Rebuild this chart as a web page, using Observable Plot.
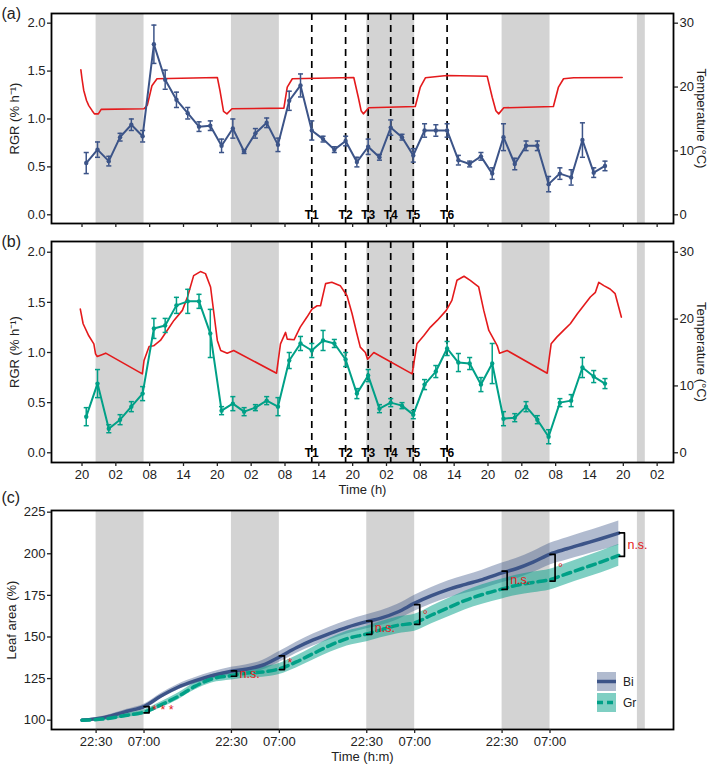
<!DOCTYPE html>
<html>
<head>
<meta charset="utf-8">
<script src="https://cdn.jsdelivr.net/npm/d3@7"></script>
<script src="https://cdn.jsdelivr.net/npm/@observablehq/plot@0.6"></script>
<style>
  body { margin: 0; background: white; }
  #wrap { position: relative; width: 709px; height: 765px; font-family: "Liberation Sans", Arial, sans-serif; }
  .legend { position: absolute; left: 597px; top: 672px; font-size: 12px; color: #222; }
  .legend .row { display: flex; align-items: center; height: 19px; margin-bottom: 2px; }
  .legend svg { display: block; margin-right: 7px; }
</style>
</head>
<body>
<div id="wrap">
  <div class="legend">
    <div class="row">
      <svg width="19" height="19"><rect width="19" height="19" fill="#3C5488" fill-opacity="0.4"></rect><line x1="0" x2="19" y1="9.5" y2="9.5" stroke="#3C5488" stroke-width="3.5"></line></svg><span>Bi</span>
    </div>
    <div class="row">
      <svg width="19" height="19"><rect width="19" height="19" fill="#00A087" fill-opacity="0.5"></rect><line x1="0" x2="19" y1="9.5" y2="9.5" stroke="#00A087" stroke-width="3.5" stroke-dasharray="6,4"></line></svg><span>Gr</span>
    </div>
  </div>
</div>
<script>
// time axis in hours, 0 = 20:00 on the first day
const hourTicks = [0, 6, 12, 18, 24, 30, 36, 42, 48, 54, 60, 66, 72, 78, 84, 90, 96, 102];
const hourLabels = ["20", "02", "08", "14", "20", "02", "08", "14", "20", "02", "08", "14", "20", "02", "08", "14", "20", "02"];
const nightStart = [2.5, 26.5, 50.5, 74.5, 98.5];
const nightEnd = [11, 35, 59, 83, 99.9];
const tLineT = [40.75, 46.75, 50.75, 54.75, 58.75, 64.75];
const tLineLabel = ["T1", "T2", "T3", "T4", "T5", "T6"];

// RGR sampling times (h)
const sampleT = [0.75, 2.75, 4.75, 6.75, 8.75, 10.75, 12.75, 14.75, 16.75, 18.75, 20.75, 22.75, 24.75, 26.75, 28.75, 30.75,
  32.75, 34.75, 36.75, 38.75, 40.75, 42.75, 44.75, 46.75, 48.75, 50.75, 52.75, 54.75, 56.75, 58.75, 60.75, 62.75,
  64.75, 66.75, 68.75, 70.75, 72.75, 74.75, 76.75, 78.75, 80.75, 82.75, 84.75, 86.75, 88.75, 90.75, 92.75];

const rgrA = [0.54, 0.68, 0.56, 0.81, 0.94, 0.82, 1.78, 1.41, 1.20, 1.06, 0.92, 0.93, 0.72, 0.90, 0.66, 0.85,
  0.96, 0.73, 1.19, 1.35, 0.88, 0.79, 0.68, 0.77, 0.55, 0.71, 0.60, 0.91, 0.81, 0.62, 0.88, 0.88,
  0.88, 0.57, 0.53, 0.61, 0.43, 0.81, 0.53, 0.72, 0.72, 0.32, 0.43, 0.39, 0.78, 0.44, 0.51];
const errA = [0.11, 0.08, 0.05, 0.04, 0.06, 0.06, 0.20, 0.10, 0.08, 0.06, 0.05, 0.05, 0.07, 0.10, 0.02, 0.05,
  0.05, 0.07, 0.10, 0.12, 0.10, 0.03, 0.03, 0.05, 0.05, 0.08, 0.03, 0.08, 0.03, 0.07, 0.07, 0.06,
  0.07, 0.05, 0.03, 0.04, 0.06, 0.14, 0.06, 0.05, 0.05, 0.08, 0.06, 0.08, 0.18, 0.05, 0.05];

const rgrB = [0.36, 0.69, 0.24, 0.33, 0.46, 0.59, 1.24, 1.27, 1.47, 1.51, 1.51, 1.19, 0.42, 0.49, 0.41, 0.45,
  0.52, 0.46, 0.92, 1.09, 1.02, 1.12, 1.09, 0.93, 0.59, 0.77, 0.44, 0.50, 0.47, 0.38, 0.68, 0.81,
  1.04, 0.90, 0.89, 0.68, 0.89, 0.34, 0.35, 0.46, 0.33, 0.16, 0.50, 0.52, 0.85, 0.76, 0.69];
const errB = [0.09, 0.14, 0.04, 0.05, 0.05, 0.07, 0.10, 0.07, 0.08, 0.12, 0.07, 0.24, 0.04, 0.07, 0.04, 0.03,
  0.04, 0.09, 0.08, 0.07, 0.07, 0.10, 0.04, 0.07, 0.05, 0.06, 0.04, 0.04, 0.03, 0.04, 0.05, 0.06,
  0.07, 0.09, 0.06, 0.07, 0.20, 0.07, 0.04, 0.05, 0.04, 0.07, 0.04, 0.06, 0.10, 0.06, 0.05];

// temperature traces [hour, °C]
const tempA = [[-0.2, 22.7], [0.0, 21.3], [0.3, 19.5], [0.8, 17.9], [1.2, 17.1], [1.8, 16.3], [2.2, 15.8], [2.9, 15.8],
  [3.4, 16.5], [11.0, 16.6], [11.6, 17.2], [12.4, 20.2], [13.3, 21.3], [24.0, 21.5], [24.5, 19.3], [25.1, 16.2],
  [25.7, 15.8], [26.6, 16.6], [35.8, 16.7], [36.4, 20.0], [37.3, 21.3], [48.2, 21.5], [49.0, 18.4], [49.5, 16.3],
  [49.9, 15.8], [50.85, 16.75], [59.1, 16.95], [60.0, 20.0], [60.9, 21.45], [64.7, 21.8], [71.85, 21.7], [72.75, 18.4],
  [73.4, 16.3], [73.9, 15.8], [74.8, 16.75], [83.6, 16.95], [84.5, 20.0], [85.4, 21.3], [87.2, 21.45], [95.8, 21.5]];
const tempB = [[-0.3, 21.5], [0.2, 19.3], [1.2, 17.5], [2.1, 16.3], [2.4, 14.8], [2.7, 14.4], [3.3, 14.6], [4.2, 14.9],
  [10.7, 11.8], [11.0, 13.8], [11.9, 15.9], [12.7, 16.0], [13.9, 16.8], [15.1, 18.3], [16.3, 19.8], [17.8, 21.3],
  [18.7, 23.3], [19.8, 26.5], [21.0, 27.1], [21.9, 26.8], [22.8, 24.8], [23.4, 20.8], [24.0, 16.8], [24.6, 15.3],
  [25.75, 14.9], [26.9, 15.3], [34.5, 11.9], [35.2, 16.3], [36.1, 18.0], [36.4, 17.0], [37.6, 16.9], [38.7, 18.8],
  [39.9, 20.3], [40.8, 21.5], [41.7, 22.0], [42.3, 22.0], [43.2, 25.3], [44.3, 25.5], [45.8, 25.0], [47.0, 23.5],
  [47.9, 20.8], [48.75, 17.8], [49.35, 15.8], [50.25, 15.0], [50.65, 14.0], [51.75, 15.0], [58.55, 11.8], [59.4, 16.3],
  [60.6, 17.5], [61.8, 18.8], [63.0, 19.8], [64.6, 21.3], [65.6, 22.8], [66.5, 25.8], [67.75, 26.4], [68.85, 25.8],
  [70.35, 24.8], [71.25, 21.3], [72.15, 18.3], [73.65, 16.0], [74.05, 14.9], [75.4, 15.3], [82.5, 11.9], [83.2, 16.3],
  [84.2, 17.3], [85.4, 18.3], [86.6, 19.3], [87.85, 20.8], [88.95, 22.0], [90.15, 23.3], [91.05, 24.0], [91.65, 25.5],
  [92.55, 25.0], [93.65, 24.5], [94.55, 23.8], [95.65, 20.3]];
const tempTicks = [0, 10, 20, 30];

// leaf area (%)
const leafT = [0, 4, 8, 11, 14, 17, 20, 23, 26.5, 29, 32, 35, 38, 41, 44, 47,
  50.5, 53, 56, 59, 62, 65, 68, 71, 74.5, 77, 80, 83, 86, 89, 92, 95.2];
const biMean = [100, 101.7, 105.4, 108.2, 114.5, 119.8, 123.6, 126.7, 129.4, 130.6, 133, 138, 143.5, 148.2, 152.2, 155.8,
  159.2, 161.3, 165, 170.3, 174.8, 178.6, 181.6, 184.5, 188.5, 191, 195, 199.8, 203, 206, 209, 212.4];
const biSE = [0.5, 0.8, 1.1, 1.3, 1.5, 1.7, 1.9, 2.1, 2.4, 2.6, 2.9, 3.2, 3.4, 3.6, 3.8, 4.0,
  4.2, 4.4, 4.6, 4.8, 5.0, 5.2, 5.4, 5.6, 5.9, 6.1, 6.3, 6.5, 6.7, 6.9, 7.1, 7.3];
const grMean = [100, 100.8, 103, 104.8, 109.2, 114.2, 120.3, 124.8, 126.8, 128.2, 128.9, 130.8, 135, 140, 145, 149,
  151.8, 154.3, 157, 158.5, 163.2, 167.6, 172, 175.5, 178.8, 181, 182.8, 184.5, 188, 191.5, 195, 199];
const grSE = [0.8, 1.0, 1.3, 1.5, 1.8, 2.0, 2.2, 2.5, 2.7, 2.9, 3.1, 3.3, 3.6, 3.9, 4.2, 4.4,
  4.6, 4.8, 5.0, 5.1, 5.3, 5.5, 5.7, 5.9, 6.0, 6.1, 6.2, 6.2, 6.3, 6.4, 6.5, 6.5];
const leafTicks = [2.5, 11, 26.5, 35, 50.5, 59, 74.5, 83];
const leafTickLabels = ["22:30", "07:00", "22:30", "07:00", "22:30", "07:00", "22:30", "07:00"];

// significance brackets
const bracketT = [11, 26.5, 35, 50.5, 59, 74.5, 83, 95.3];
const bracketHi = [108.2, 129.6, 138.6, 159.6, 169.4, 189.6, 199.6, 212.6];
const bracketLo = [104.4, 126.4, 130.4, 151.6, 157.6, 178.6, 183.6, 198.4];
const bracketLabel = ["* * *", "n.s.", "*", "n.s.", "°", "n.s.", "°", "n.s."];

const navy = "#3C5488", teal = "#00A087", red = "#E41A1C", nightFill = "#d3d3d3";
const xDomain = [-5.41, 104.9];
const font = "'Liberation Sans', Arial, sans-serif";

const nightRows = nightStart.map((s, i) => ({x1: s, x2: nightEnd[i]}));
const tRows = tLineT.map((t, i) => ({t, label: tLineLabel[i]}));
const hourLabelOf = new Map(hourTicks.map((t, i) => [t, hourLabels[i]]));
const leafLabelOf = new Map(leafTicks.map((t, i) => [t, leafTickLabels[i]]));

function svgStyle(top) {
  return {fontFamily: font, fontSize: "13px", color: "#222", background: "none",
    position: "absolute", left: "0px", top: top + "px", overflow: "visible"};
}

function rgrPanel(vals, errs, temp, color, top, height, mB, yDomain, tag, showX) {
  const rows = sampleT.map((t, i) => ({t, y: vals[i], lo: vals[i] - errs[i], hi: vals[i] + errs[i]}));
  const marks = [
    Plot.rect(nightRows, {x1: "x1", x2: "x2", fill: nightFill}),
    Plot.ruleX(tRows, {x: "t", stroke: "black", strokeWidth: 1.7, strokeDasharray: "7,5"}),
    Plot.line(temp, {x: d => d[0], y: d => d[1] / 15, stroke: red, strokeWidth: 1.6}),
    Plot.ruleX(rows, {x: "t", y1: "lo", y2: "hi", stroke: color, strokeWidth: 1.5}),
    Plot.link(rows, {x1: d => d.t - 0.45, x2: d => d.t + 0.45, y1: "hi", y2: "hi", stroke: color, strokeWidth: 1.5}),
    Plot.link(rows, {x1: d => d.t - 0.45, x2: d => d.t + 0.45, y1: "lo", y2: "lo", stroke: color, strokeWidth: 1.5}),
    Plot.line(rows, {x: "t", y: "y", stroke: color, strokeWidth: 2}),
    Plot.dot(rows, {x: "t", y: "y", r: 2.2, fill: color}),
    Plot.text(tRows, {x: "t", y: 0, text: "label", fontWeight: "bold", fontSize: 12, fill: "black"}),
    Plot.frame({stroke: "black", strokeWidth: 1.8}),
    Plot.axisY({ticks: [0, 0.5, 1, 1.5, 2], tickFormat: d3.format(".1f"), tickSize: 4, tickPadding: 2, strokeWidth: 1.3, label: null}),
    Plot.axisY({anchor: "right", ticks: tempTicks.map(v => v / 15), tickFormat: d => String(Math.round(d * 15)),
      tickSize: 4, tickPadding: 2, strokeWidth: 1.3, label: null}),
    Plot.axisX({ticks: hourTicks, tickFormat: showX ? (d => hourLabelOf.get(d)) : (() => ""), tickSize: 4, tickPadding: 3,
      strokeWidth: 1.3, label: null}),
    Plot.text(["RGR (% h⁻¹)"], {text: d => d, frameAnchor: "left", dx: -37, rotate: -90, textAnchor: "middle", fontSize: 13}),
    Plot.text(["Temperature (°C)"], {text: d => d, frameAnchor: "right", dx: 28, rotate: 90, textAnchor: "middle", fontSize: 13}),
    Plot.text([tag], {text: d => d, frameAnchor: "top-left", dx: -50, textAnchor: "start", lineAnchor: "middle", fontSize: 16})
  ];
  if (showX) marks.push(Plot.text(["Time (h)"], {text: d => d, frameAnchor: "bottom", dy: 27, lineAnchor: "middle", fontSize: 13}));
  return Plot.plot({
    width: 709, height, marginLeft: 51, marginRight: 36, marginTop: 13, marginBottom: mB,
    x: {domain: xDomain}, y: {domain: yDomain},
    style: svgStyle(top),
    marks
  });
}

const wrap = document.getElementById("wrap");
wrap.append(rgrPanel(rgrA, errA, tempA, navy, 0, 230, 7, [-0.091, 2.101], "(a)", false));
wrap.append(rgrPanel(rgrB, errB, tempB, teal, 228, 270, 36, [-0.097, 2.107], "(b)", true));

// panel c
const leafRows = leafT.map((t, i) => ({
  t, bi: biMean[i], biLo: biMean[i] - biSE[i], biHi: biMean[i] + biSE[i],
  gr: grMean[i], grLo: grMean[i] - grSE[i], grHi: grMean[i] + grSE[i]
}));
const bracketW = 0.9;
const bracketRows = bracketT.map((t, i) => ({id: i, t, hi: bracketHi[i], lo: bracketLo[i], label: bracketLabel[i]}));
const bracketPts = bracketRows.flatMap(b => [
  {id: b.id, x: b.t, y: b.hi}, {id: b.id, x: b.t + bracketW, y: b.hi},
  {id: b.id, x: b.t + bracketW, y: b.lo}, {id: b.id, x: b.t, y: b.lo}
]);

const chartC = Plot.plot({
  width: 709, height: 283, marginLeft: 51, marginRight: 36, marginTop: 28, marginBottom: 36,
  x: {domain: xDomain}, y: {domain: [94.4, 226]},
  style: svgStyle(482),
  marks: [
    Plot.rect(nightRows, {x1: "x1", x2: "x2", fill: nightFill}),
    Plot.areaY(leafRows, {x: "t", y1: "biLo", y2: "biHi", fill: navy, fillOpacity: 0.4, curve: "monotone-x"}),
    Plot.areaY(leafRows, {x: "t", y1: "grLo", y2: "grHi", fill: teal, fillOpacity: 0.5, curve: "monotone-x"}),
    Plot.line(leafRows, {x: "t", y: "bi", stroke: navy, strokeWidth: 3.5, curve: "monotone-x"}),
    Plot.line(leafRows, {x: "t", y: "gr", stroke: teal, strokeWidth: 3.5, strokeDasharray: "8,5", curve: "monotone-x"}),
    Plot.line(bracketPts, {x: "x", y: "y", z: "id", stroke: "black", strokeWidth: 1.7}),
    Plot.text(bracketRows, {x: d => d.t + bracketW, y: d => (d.hi + d.lo) / 2, text: "label", fill: red,
      textAnchor: "start", dx: 3, fontSize: 12.5}),
    Plot.frame({stroke: "black", strokeWidth: 1.8}),
    Plot.axisY({ticks: [100, 125, 150, 175, 200, 225], tickSize: 4, tickPadding: 2, strokeWidth: 1.3, label: null}),
    Plot.axisX({ticks: leafTicks, tickFormat: d => leafLabelOf.get(d), tickSize: 4, tickPadding: 3, strokeWidth: 1.3, label: null}),
    Plot.text(["Leaf area (%)"], {text: d => d, frameAnchor: "left", dx: -40, rotate: -90, textAnchor: "middle", fontSize: 13}),
    Plot.text(["Time (h:m)"], {text: d => d, frameAnchor: "bottom", dy: 27, lineAnchor: "middle", fontSize: 13}),
    Plot.text(["(c)"], {text: d => d, frameAnchor: "top-left", dx: -50, dy: -13, textAnchor: "start", lineAnchor: "middle", fontSize: 16})
  ]
});
wrap.append(chartC);
// keep the legend above the svg
wrap.append(document.querySelector(".legend"));
</script>
</body>
</html>
